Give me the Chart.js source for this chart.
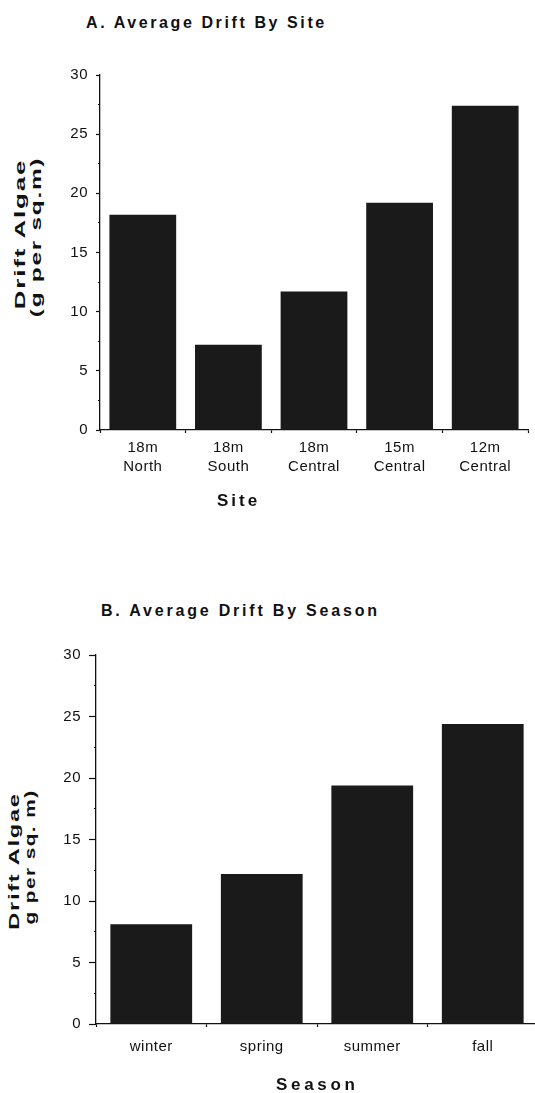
<!DOCTYPE html>
<html>
<head>
<meta charset="utf-8">
<title>Average Drift</title>
<script src="https://cdn.jsdelivr.net/npm/chart.js@4.4.1/dist/chart.umd.min.js"></script>
<style>
  html, body { margin:0; padding:0; background:#fff; }
  body { width:535px; height:1093px; position:relative; overflow:hidden; font-family:"Liberation Sans", Arial, sans-serif; color:#111; }
  .box { position:absolute; left:0; }
  .ttl { position:absolute; white-space:nowrap; font-weight:bold; font-size:16px; line-height:16px; }
  .ytl { position:absolute; white-space:nowrap; font-weight:bold; font-size:14px; line-height:14px; letter-spacing:1px; transform-origin:center; }
  .xtl { position:absolute; white-space:nowrap; font-weight:bold; font-size:17px; line-height:17px; }
</style>
</head>
<body>

<div class="ttl" style="left:86px;top:15px;letter-spacing:2.6px">A. Average Drift By Site</div>
<div class="ytl" style="left:20px;top:234px;transform:translate(-50%,-50%) rotate(-90deg) scaleX(1.85)">Drift Algae</div>
<div class="ytl" style="left:36px;top:237px;transform:translate(-50%,-50%) rotate(-90deg) scaleX(1.74)">(g per sq.m)</div>
<div class="box" style="top:40px"><canvas id="chart-site" width="535" height="480"></canvas></div>
<div class="xtl" style="left:217px;top:492px;letter-spacing:3px">Site</div>

<div class="ttl" style="left:101px;top:603px;letter-spacing:2.8px">B. Average Drift By Season</div>
<div class="ytl" style="left:14px;top:861px;transform:translate(-50%,-50%) rotate(-90deg) scaleX(1.69)">Drift Algae</div>
<div class="ytl" style="left:30px;top:857px;transform:translate(-50%,-50%) rotate(-90deg) scaleX(1.48)">g per sq. m)</div>
<div class="box" style="top:600px"><canvas id="chart-season" width="540" height="493"></canvas></div>
<div class="xtl" style="left:276px;top:1076px;letter-spacing:3.7px">Season</div>

<script>
  // values (g per sq. m)
  const Y_MAX = 30;
  const Y_STEP = 2.5;   // minor ticks, labels only every 5

  const siteLabels = [['18m', 'North'], ['18m', 'South'], ['18m', 'Central'], ['15m', 'Central'], ['12m', 'Central']];
  const siteDrift  = [18.2, 7.2, 11.7, 19.2, 27.4];

  const seasonLabels = ['winter', 'spring', 'summer', 'fall'];
  const seasonDrift  = [8.1, 12.2, 19.4, 24.4];

  const INK = '#111';
  const BAR = '#1a1a1a';
  const FONT = '"Liberation Sans", Arial, sans-serif';

  // the scanned tick text is a bit wide, a little tracking gets it close
  const tracking = {
    id: 'tracking',
    beforeDraw(chart) { chart.ctx.letterSpacing = '0.5px'; }
  };

  function barChart(id, labels, values, o) {
    return new Chart(document.getElementById(id), {
      type: 'bar',
      data: {
        labels: labels,
        datasets: [{ data: values, backgroundColor: BAR, borderWidth: 0, barPercentage: o.barPct, categoryPercentage: 1 }]
      },
      options: {
        responsive: false,
        animation: false,
        layout: { padding: o.pad },
        plugins: { legend: { display: false }, tooltip: { enabled: false } },
        scales: {
          x: {
            grid: { drawOnChartArea: false, tickLength: 3, tickColor: INK, tickWidth: 1.2 },
            border: { color: INK, width: 1.3 },
            ticks: { color: INK, padding: o.xPad, maxRotation: 0, autoSkip: false,
                     font: { family: FONT, size: 15, lineHeight: '19px' } },
            afterFit: s => { s.height = o.xHeight; }
          },
          y: {
            min: 0, max: Y_MAX,
            grid: {
              drawOnChartArea: false, tickLength: o.tickLen, tickColor: INK, tickWidth: 1.2,
              // minor ticks: only a short stub next to the axis
              tickBorderDash: c => (c.tick && c.tick.value % 5) ? [0, o.tickLen - 2, 2, 40] : []
            },
            border: { color: INK, width: 1.3 },
            ticks: { stepSize: Y_STEP, autoSkip: false, color: INK, padding: 8,
                     font: { family: FONT, size: 15 },
                     callback: v => (v % 5 ? '' : v) },
            afterFit: s => { s.width = o.yWidth; }
          }
        }
      },
      plugins: [tracking]
    });
  }

  barChart('chart-site', siteLabels, siteDrift, {
    pad: { top: 35, right: 7, bottom: 0, left: 0 },
    yWidth: 100, xHeight: 90, xPad: 5, tickLen: 4, barPct: 0.78
  });

  barChart('chart-season', seasonLabels, seasonDrift, {
    pad: { top: 55, right: 2, bottom: 0, left: 0 },
    yWidth: 96, xHeight: 69, xPad: 10, tickLen: 7, barPct: 0.74
  });
</script>
</body>
</html>
